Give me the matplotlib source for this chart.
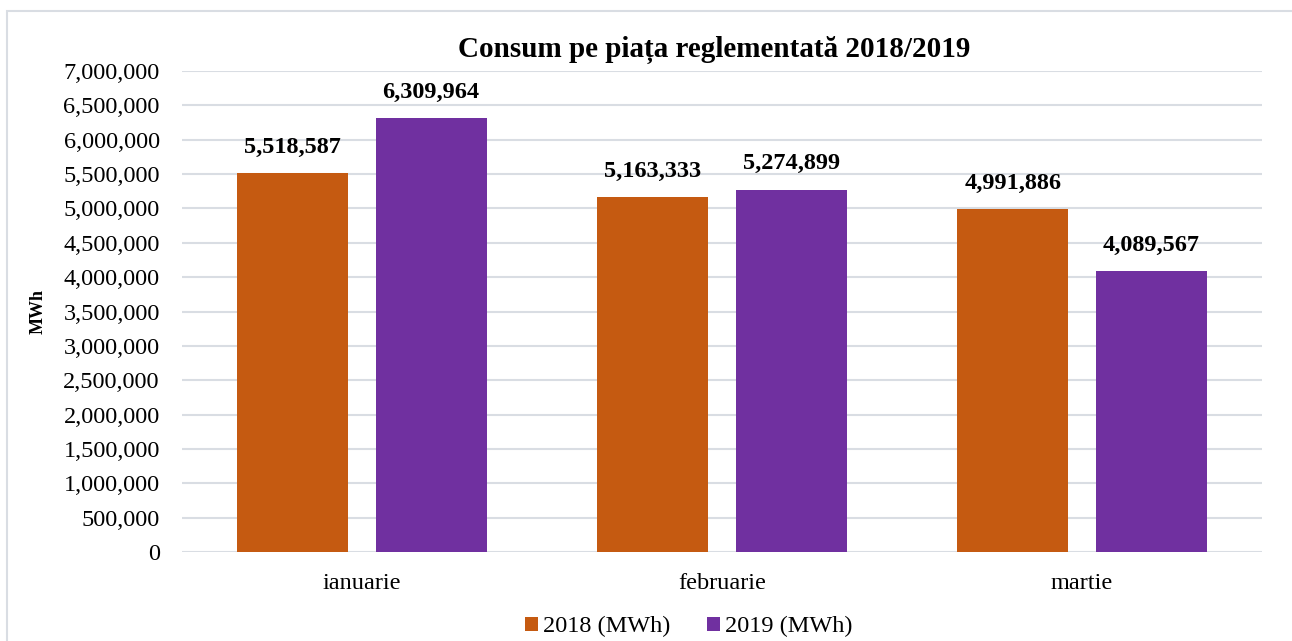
import matplotlib.pyplot as plt
from matplotlib.patches import Rectangle
from matplotlib.ticker import FuncFormatter
import numpy as np

# Date
luni = ['ianuarie', 'februarie', 'martie']
consum_2018 = [5518587, 5163333, 4991886]
consum_2019 = [6309964, 5274899, 4089567]
serii = ['2018 (MWh)', '2019 (MWh)']

plt.rcParams['font.family'] = ['Liberation Serif', 'DejaVu Serif']

fig = plt.figure(figsize=(12.92, 6.41), dpi=100)
ax = fig.add_axes([0.1409, 0.1388, 0.9768 - 0.1409, 0.8892 - 0.1388])

# chenarul exterior
fig.patches.append(Rectangle((7 / 1292, -0.1), 2, 1.1 - 11 / 641, transform=fig.transFigure,
                             fill=False, edgecolor='#d9dde3', linewidth=1.5))

x = np.arange(len(luni))
w = 0.308
b1 = ax.bar(x - 0.192, consum_2018, w, color='#C55A11', label=serii[0], zorder=3)
b2 = ax.bar(x + 0.192, consum_2019, w, color='#7030A0', label=serii[1], zorder=3)

for bars in (b1, b2):
    for r in bars:
        ax.annotate(f'{int(r.get_height()):,}', (r.get_x() + r.get_width() / 2, r.get_height()),
                    xytext=(0, 11), textcoords='offset points', ha='center', va='bottom',
                    fontsize=17.5, fontweight='bold')

ax.set_xlim(-0.5, 2.5)
ax.set_ylim(0, 7000000)
ax.set_yticks(np.arange(0, 7000001, 500000))
ax.yaxis.set_major_formatter(FuncFormatter(lambda v, p: f'{int(v):,}'))
ax.set_xticks(x)
ax.set_xticklabels(luni)
ax.tick_params(axis='both', length=0, labelsize=17.5)
ax.tick_params(axis='x', pad=15)
ax.tick_params(axis='y', pad=16)
ax.grid(axis='y', color='#d9dde3', linewidth=1.5, zorder=0)
for s in ax.spines.values():
    s.set_visible(False)

ax.set_ylabel('MWh', fontsize=13, fontweight='bold', labelpad=12)
fig.text(0.553, 0.922, 'Consum pe piața reglementată 2018/2019', ha='center', va='center',
         fontsize=21, fontweight='bold')

fig.legend(loc='center', bbox_to_anchor=(0.533, 0.022), ncol=2, frameon=False, fontsize=17.5,
           handlelength=0.55, handleheight=0.55, handletextpad=0.2, columnspacing=1.5)

fig.savefig('out.png', dpi=100)
